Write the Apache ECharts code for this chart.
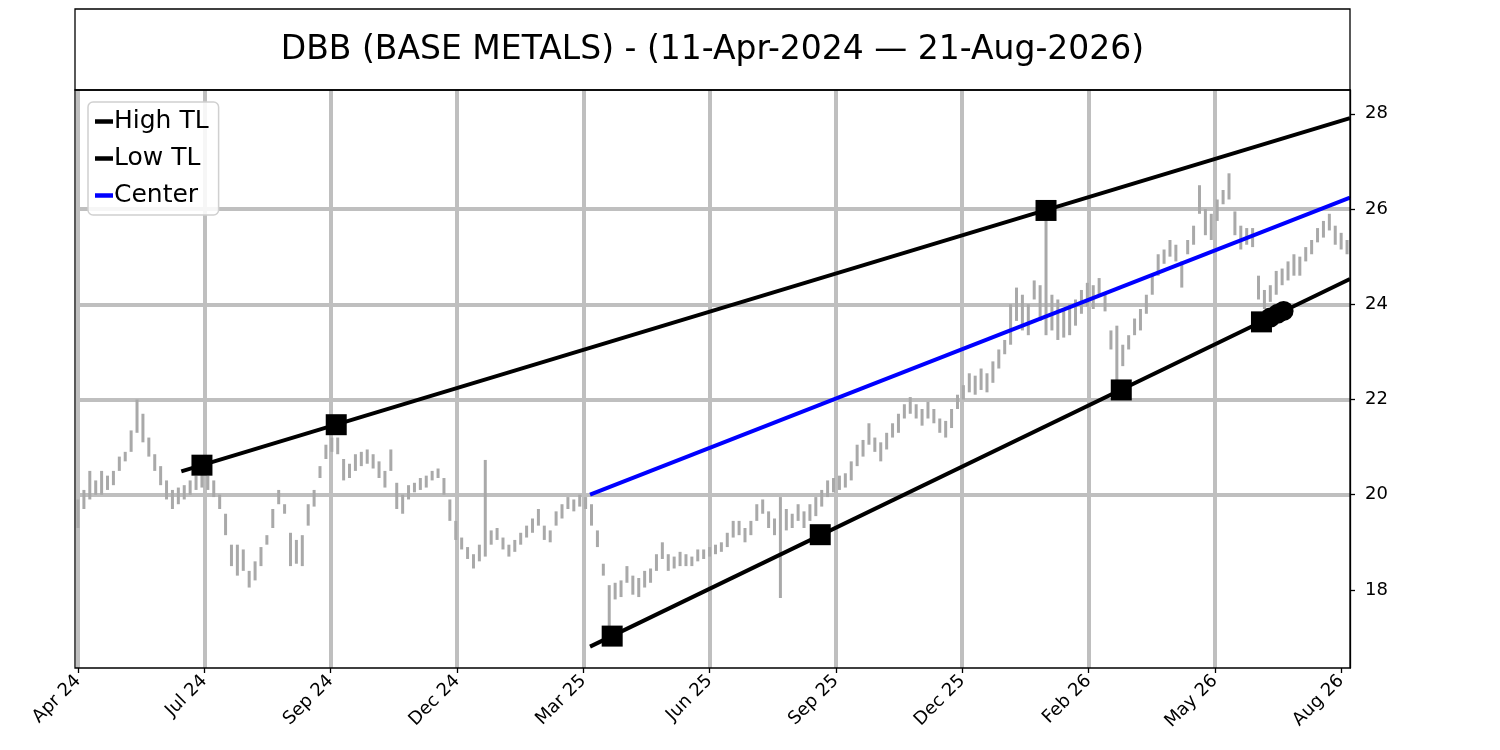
<!DOCTYPE html>
<html><head><meta charset="utf-8">
<script src="https://cdn.jsdelivr.net/npm/echarts@6/dist/echarts.min.js"></script>
<style>html,body{margin:0;padding:0;background:#fff}#c{width:1500px;height:750px}</style>
</head><body><div id="c"></div>
<script>
// ---------------- DATA ----------------
const titleText = 'DBB (BASE METALS) - (11-Apr-2024 \u2014 21-Aug-2026)';
const startDate = '2024-04-11';
const endDate = '2026-08-21';
const sampleStepDays = 4; // price bars sampled every 4 calendar days from startDate

const lows = [19.3,19.7,19.9,20.0,20.0,20.1,20.2,20.5,20.7,20.9,21.3,21.1,20.8,20.5,20.2,19.9,19.7,19.8,19.9,20.0,
20.1,20.15,20.1,19.95,19.7,19.15,18.5,18.3,18.4,18.05,18.2,18.5,18.95,19.3,19.8,19.6,18.5,18.55,18.5,19.35,
19.75,20.35,20.75,20.9,20.85,20.3,20.35,20.5,20.6,20.65,20.55,20.35,20.15,20.5,19.7,19.6,19.9,20.05,20.1,20.15,
20.3,20.35,20.0,19.45,19.05,18.85,18.65,18.45,18.6,18.7,18.95,19.05,18.85,18.7,18.8,18.95,19.1,19.2,19.35,19.05,
19.0,19.35,19.5,19.7,19.65,19.75,19.7,19.35,18.9,18.3,17.1,17.8,17.85,18.15,17.9,17.85,18.05,18.15,18.4,18.65,
18.4,18.45,18.5,18.5,18.5,18.6,18.65,18.7,18.75,18.8,18.9,19.1,19.15,19.0,19.15,19.45,19.6,19.3,19.15,17.83,
19.25,19.3,19.45,19.3,19.45,19.55,19.75,19.95,20.05,20.1,20.15,20.3,20.6,20.8,21.05,20.9,20.7,20.95,21.2,21.3,
21.6,21.7,21.6,21.45,21.6,21.5,21.3,21.2,21.4,21.8,22.0,22.15,22.1,22.2,22.15,22.35,22.65,22.95,23.15,23.65,
23.45,23.35,24.1,23.65,23.35,23.45,23.25,23.3,23.35,23.55,23.8,23.95,23.9,24.2,23.85,23.05,22.4,22.7,23.05,23.35,
23.45,23.8,24.2,24.6,24.85,25.0,24.9,24.35,25.05,25.25,25.9,25.45,25.35,25.75,26.1,26.2,25.45,25.15,25.25,25.2,
24.1,23.9,24.05,24.2,24.4,24.5,24.6,24.6,24.9,25.05,25.3,25.4,25.55,25.25,25.15,25.05];
const highs = [19.9,20.1,20.5,20.3,20.5,20.4,20.5,20.8,20.9,21.35,22.0,21.7,21.2,20.85,20.6,20.3,20.1,20.15,20.2,20.3,
20.4,20.5,20.4,20.3,20.0,19.6,18.95,18.95,18.85,18.4,18.6,18.9,19.15,19.7,20.1,19.8,19.2,19.05,19.15,19.8,
20.1,20.6,21.05,21.2,21.2,20.75,20.65,20.85,20.9,20.95,20.85,20.7,20.5,20.95,20.25,20.0,20.2,20.25,20.35,20.4,
20.5,20.55,20.35,19.9,19.45,19.1,18.9,18.75,18.95,20.73,19.25,19.3,19.1,18.95,19.05,19.2,19.35,19.5,19.7,19.35,
19.25,19.65,19.8,19.95,19.9,20.0,19.95,19.8,19.25,18.55,18.1,18.15,18.2,18.5,18.3,18.25,18.4,18.45,18.75,19.0,
18.75,18.7,18.8,18.75,18.7,18.85,18.85,18.9,18.95,19.0,19.2,19.45,19.45,19.3,19.45,19.8,19.9,19.65,19.5,19.95,
19.7,19.6,19.8,19.65,19.8,19.95,20.1,20.3,20.35,20.4,20.45,20.7,21.05,21.15,21.5,21.2,21.1,21.3,21.5,21.7,
21.9,22.05,21.9,21.8,21.95,21.8,21.6,21.55,21.8,22.1,22.3,22.55,22.5,22.65,22.55,22.8,23.05,23.25,24.0,24.35,
24.2,24.0,24.5,24.4,25.95,24.2,24.1,23.9,24.0,24.1,24.3,24.45,24.4,24.55,24.25,23.45,23.55,23.15,23.35,23.7,
23.9,24.2,24.6,25.05,25.15,25.35,25.25,24.9,25.35,25.65,26.5,26.0,25.9,26.2,26.4,26.75,25.95,25.65,25.6,25.6,
24.6,24.3,24.4,24.7,24.75,24.9,25.05,25.0,25.2,25.35,25.6,25.75,25.9,25.65,25.5,25.35];

// trend lines: [date, value]
const highTL = [['2024-06-20', 20.49], ['2026-08-21', 27.91]];
const lowTL = [['2025-03-24', 16.81], ['2026-08-21', 24.53]];
const centerTL = [['2025-03-24', 20.0], ['2026-08-21', 26.24]];
// touch points
const highPts = [['2024-07-04', 20.62], ['2024-10-03', 21.47], ['2026-01-27', 25.97]];
const lowPts = [['2025-04-08', 17.03], ['2025-08-27', 19.16], ['2026-03-19', 22.2], ['2026-06-22', 23.63]];
const lowRecent = [['2026-06-28', 23.72], ['2026-07-03', 23.8], ['2026-07-07', 23.86]];

const xTickLabels = ['Apr 24','Jul 24','Sep 24','Dec 24','Mar 25','Jun 25','Sep 25','Dec 25','Feb 26','May 26','Aug 26'];
const xTickStep = 85.6; // days between labelled ticks
const yTickValues = [18, 20, 22, 24, 26, 28];
const yMin = 16.36, yMax = 28.5;

// ---------------- BUILD ----------------
const t0 = Date.parse(startDate);
const dayOf = s => (Date.parse(s) - t0) / 86400000;
const xMax = dayOf(endDate);
const barData = lows.map((lo, i) => [i * sampleStepDays, lo, highs[i]]);
const toXY = arr => arr.map(p => [dayOf(p[0]), p[1]]);
const xTicks = xTickLabels.map((_, i) => +(i * xTickStep).toFixed(3));

const FONT = 'DejaVu Sans';
const chart = echarts.init(document.getElementById('c'), null, {renderer: 'canvas'});
const L = 78, R = 1350, T = 90, B = 668;

chart.setOption({
  animation: false,
  backgroundColor: '#fff',
  grid: {left: L, right: 1500 - R, top: T, bottom: 750 - B, show: false},
  graphic: [
    {type: 'rect', shape: {x: 75, y: 9, width: 1275, height: 81}, style: {fill: 'none', stroke: '#000', lineWidth: 1.3}, z: 100},
    {type: 'text', x: 712.5, y: 50, style: {text: titleText, fill: '#000', font: '33px "DejaVu Sans"', textAlign: 'center', textVerticalAlign: 'middle'}, z: 100},
    {type: 'rect', shape: {x: 75, y: T, width: R - 75, height: B - T}, style: {fill: 'none', stroke: '#000', lineWidth: 1.3}, z: 100}
  ],
  legend: {
    data: ['High TL', 'Low TL', 'Center'],
    orient: 'vertical', left: 88, top: 102,
    icon: 'rect', itemWidth: 18, itemHeight: 4.5, itemGap: 12,
    textStyle: {fontSize: 25, color: '#000', fontFamily: FONT, padding: [0, 0, 0, -4]},
    backgroundColor: 'rgba(255,255,255,0.85)', borderColor: '#d0d0d0', borderWidth: 1.5, borderRadius: 5,
    padding: [7, 10, 7, 7], z: 50
  },
  xAxis: {
    type: 'value', min: 0, max: xMax, interval: xTickStep,
    axisLine: {show: false, onZero: false},
    axisTick: {show: true, customValues: xTicks, length: 5, lineStyle: {color: '#000', width: 1.3}},
    axisLabel: {customValues: xTicks, rotate: 45, fontSize: 18, color: '#000', fontFamily: FONT, margin: 10,
      formatter: v => { const i = Math.round(v / xTickStep); return Math.abs(v - i * xTickStep) < 0.5 ? (xTickLabels[i] || '') : ''; }},
    splitLine: {show: true, showMinLine: true, showMaxLine: false, lineStyle: {color: '#bfbfbf', width: 4}}
  },
  yAxis: {
    type: 'value', position: 'right', min: yMin, max: yMax, splitNumber: 6,
    axisLine: {show: true, onZero: false, lineStyle: {color: '#000', width: 1.3}},
    axisTick: {show: true, customValues: yTickValues, length: 5, lineStyle: {color: '#000', width: 1.3}},
    axisLabel: {customValues: yTickValues, fontSize: 18, color: '#000', fontFamily: FONT, margin: 15},
    splitLine: {show: true, showMinLine: false, showMaxLine: false, lineStyle: {color: '#bfbfbf', width: 4}}
  },
  series: [
    {
      name: 'Price', type: 'custom', data: barData, encode: {x: 0, y: [1, 2]}, z: 2, silent: true,
      renderItem: (params, api) => {
        const p1 = api.coord([api.value(0), api.value(1)]);
        const p2 = api.coord([api.value(0), api.value(2)]);
        return {type: 'line', shape: {x1: p1[0], y1: p1[1], x2: p2[0], y2: p2[1]}, style: {stroke: '#a9a9a9', lineWidth: 3}};
      }
    },
    {name: 'High TL', type: 'line', data: toXY(highTL), showSymbol: false, color: '#000', lineStyle: {color: '#000', width: 4}, z: 5},
    {name: 'Low TL', type: 'line', data: toXY(lowTL), showSymbol: false, color: '#000', lineStyle: {color: '#000', width: 4}, z: 5},
    {name: 'Center', type: 'line', data: toXY(centerTL), showSymbol: false, color: '#0000ff', lineStyle: {color: '#0000ff', width: 4}, z: 5},
    {name: 'High pts', type: 'scatter', data: toXY(highPts), symbol: 'rect', symbolSize: 21, itemStyle: {color: '#000', opacity: 1}, z: 6},
    {name: 'Low pts', type: 'scatter', data: toXY(lowPts), symbol: 'rect', symbolSize: 21, itemStyle: {color: '#000', opacity: 1}, z: 6},
    {name: 'Low recent', type: 'scatter', data: toXY(lowRecent), symbol: 'circle', symbolSize: 20, itemStyle: {color: '#000', opacity: 1}, z: 6}
  ]
});
</script></body></html>
